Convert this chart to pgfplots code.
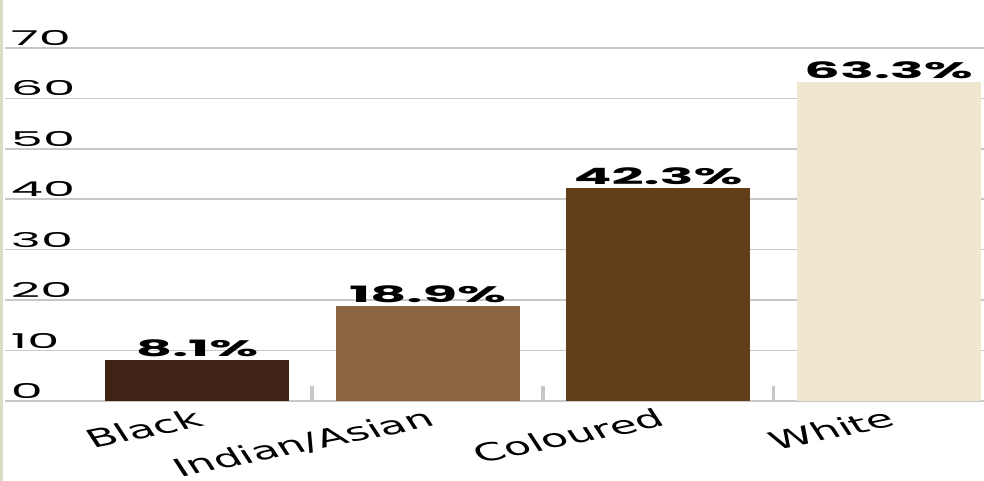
\documentclass[border=0pt]{standalone}
\usepackage{fontspec}
\setmainfont{Poppins}
\newfontfamily\labfont{DejaVu Sans}
\usepackage{pgfplots}
\pgfplotsset{compat=1.18}
\definecolor{cBlack}{HTML}{3F2415}
\definecolor{cIndian}{HTML}{8B6440}
\definecolor{cColoured}{HTML}{623F18}
\definecolor{cWhite}{HTML}{F1E6D0}
\definecolor{cGrid}{HTML}{C8C8C8}
\definecolor{cStrip}{HTML}{DCDCC0}
\begin{document}
\begin{tikzpicture}
\useasboundingbox (-2.5pt,-40pt) rectangle (489.5pt,200.5pt);
\fill[cStrip] (-2.5pt,-40pt) rectangle (-1pt,200.5pt);
\begin{axis}[
  at={(0,0)}, anchor=south west,
  scale only axis, width=489.5pt, height=200.5pt,
  xmin=-0.833, xmax=3.414, ymin=0, ymax=79.5,
  axis line style={draw=none},
  clip=false,
  /pgf/number format/assume math mode=true,
  ytick={0,10,...,70},
  ymajorgrids, grid style={draw=cGrid, line width=0.8pt},
  major tick length=0pt,
  tick style={draw=cGrid, line width=1.8pt},
  tick align=inside,
  xtick pos=bottom, ytick pos=left,
  xtick={0,1,2,3},
  xticklabels={Black,Indian/Asian,Coloured,White},
  extra x ticks={0.5,1.5,2.5},
  extra x tick labels={},
  extra x tick style={major tick length=7.5pt, grid=none},
  xticklabel style={xshift=2.5pt, yshift=1pt, xscale=1.8, rotate=20, anchor=north east, font=\labfont\fontsize{12.3}{13}\selectfont},
  yticklabel style={xshift=2.5pt, yshift=1pt, xscale=2.5, anchor=south west, inner sep=0pt, font=\fontsize{10.2}{11}\selectfont},
  every node near coord/.append style={yshift=-2pt, xscale=2.5, anchor=south, font=\bfseries\fontsize{11.25}{12}\selectfont},
  nodes near coords={\pgfmathprintnumber[fixed,precision=1,fixed zerofill,assume math mode=true]{\pgfplotspointmeta}\%},
  point meta=y,
]
\addplot[ybar, bar shift=0pt, bar width=0.798, draw=none, fill=cBlack] coordinates {(0,8.1)};
\addplot[ybar, bar shift=0pt, bar width=0.798, draw=none, fill=cIndian] coordinates {(1,18.9)};
\addplot[ybar, bar shift=0pt, bar width=0.798, draw=none, fill=cColoured] coordinates {(2,42.3)};
\addplot[ybar, bar shift=0pt, bar width=0.798, draw=none, fill=cWhite] coordinates {(3,63.3)};
\end{axis}
\end{tikzpicture}
\end{document}
